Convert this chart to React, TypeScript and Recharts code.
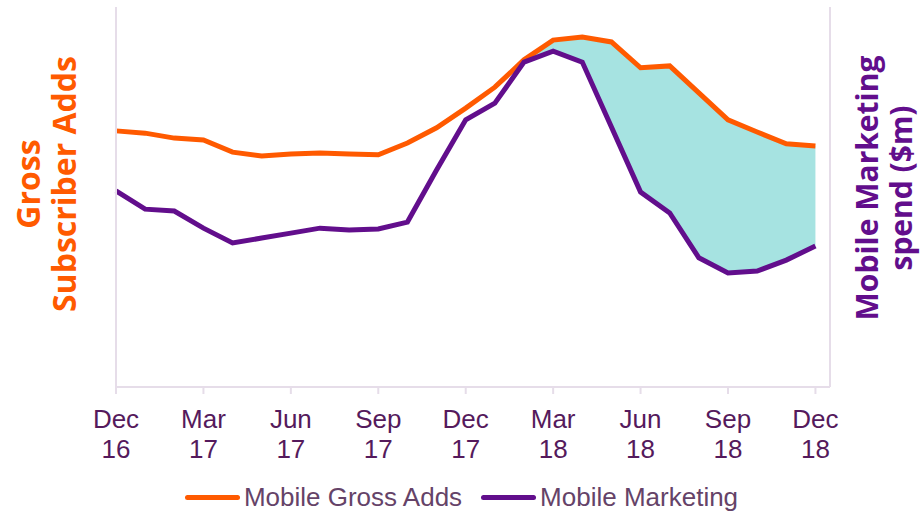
import React from "react";
import { Area, ComposedChart, Legend, Line, XAxis, YAxis } from "recharts";

// Monthly points, Dec 16 .. Dec 18 (month index 0..24)
const MONTHS = [
  "Dec 16", "Jan 17", "Feb 17", "Mar 17", "Apr 17", "May 17", "Jun 17", "Jul 17", "Aug 17",
  "Sep 17", "Oct 17", "Nov 17", "Dec 17", "Jan 18", "Feb 18", "Mar 18", "Apr 18", "May 18",
  "Jun 18", "Jul 18", "Aug 18", "Sep 18", "Oct 18", "Nov 18", "Dec 18",
];

// Index scale (0-100)
const GROSS_ADDS = [
  67.4, 66.8, 65.5, 65.0, 61.8, 60.8, 61.3, 61.6, 61.3, 61.1, 64.2, 68.2, 73.4,
  78.9, 86.1, 91.3, 92.1, 90.8, 84.0, 84.5, 77.4, 70.3, 67.1, 64.0, 63.4,
];
const MARKETING = [
  51.6, 46.8, 46.3, 41.8, 37.9, 39.2, 40.5, 41.8, 41.3, 41.6, 43.4, 57.1, 70.3,
  74.7, 85.5, 88.4, 85.5, 68.4, 51.3, 45.8, 34.0, 30.0, 30.5, 33.4, 37.1,
];
// the gap is shaded from Feb 18 onwards
const SHADE_FROM = 14;

const TICKS = [0, 3, 6, 9, 12, 15, 18, 21, 24];

const ORANGE = "#ff5a00";
const PURPLE = "#620e8c";
const TEAL = "#a6e3e1";
const AXIS = "#e6dde9";
const TICK_TEXT = "#551a5c";
const LEGEND_TEXT = "#654368";

const data = MONTHS.map((name, i) => ({
  m: i,
  name,
  adds: GROSS_ADDS[i],
  spend: MARKETING[i],
  band: i >= SHADE_FROM ? [MARKETING[i], GROSS_ADDS[i]] : null,
}));

function MonthTick({ x, y, payload }: any) {
  const [mon, yr] = MONTHS[payload.value].split(" ");
  return (
    <text
      x={x}
      y={y}
      textAnchor="middle"
      fill={TICK_TEXT}
      fontSize={26}
      fontFamily="'Liberation Sans', Arial, sans-serif"
    >
      <tspan x={x} dy={32}>{mon}</tspan>
      <tspan x={x} dy={30}>{yr}</tspan>
    </text>
  );
}

function LegendRow() {
  const items = [
    { label: "Mobile Gross Adds", color: ORANGE },
    { label: "Mobile Marketing", color: PURPLE },
  ];
  return (
    <div
      style={{
        display: "flex",
        justifyContent: "center",
        gap: 19,
        fontFamily: "'Liberation Sans', Arial, sans-serif",
        fontSize: 26,
        color: LEGEND_TEXT,
        lineHeight: "30px",
      }}
    >
      {items.map((it) => (
        <div key={it.label} style={{ display: "flex", alignItems: "center" }}>
          <span
            style={{
              display: "inline-block",
              width: 55,
              height: 5,
              borderRadius: 3,
              background: it.color,
              marginRight: 4,
            }}
          />
          <span>{it.label}</span>
        </div>
      ))}
    </div>
  );
}

const titleStyle: React.CSSProperties = {
  position: "absolute",
  transform: "translate(-50%, -50%) rotate(-90deg)",
  whiteSpace: "nowrap",
  textAlign: "center",
  fontFamily: "'Open Sans', sans-serif",
  fontWeight: 700,
};

export default function App() {
  return (
    <div
      style={{
        position: "absolute",
        left: 0,
        top: 0,
        width: 923,
        height: 513,
        background: "#fff",
      }}
    >
      <ComposedChart
        width={923}
        height={513}
        data={data}
        margin={{ top: 7, right: 0, bottom: 0, left: 16 }}
      >
        <XAxis
          dataKey="m"
          type="number"
          domain={[0, 24.5]}
          ticks={TICKS}
          interval={0}
          height={126}
          tick={<MonthTick />}
          tickSize={7}
          tickLine={{ stroke: AXIS, strokeWidth: 2 }}
          axisLine={{ stroke: AXIS, strokeWidth: 2 }}
        />
        <YAxis
          yAxisId="left"
          domain={[0, 100]}
          width={100}
          tick={false}
          tickLine={false}
          axisLine={{ stroke: AXIS, strokeWidth: 2 }}
        />
        <YAxis
          yAxisId="right"
          orientation="right"
          domain={[0, 100]}
          width={93}
          tick={false}
          tickLine={false}
          axisLine={{ stroke: AXIS, strokeWidth: 2 }}
        />
        <Area
          yAxisId="left"
          dataKey="band"
          stroke="none"
          fill={TEAL}
          fillOpacity={1}
          isAnimationActive={false}
          legendType="none"
        />
        <Line
          yAxisId="left"
          dataKey="adds"
          name="Mobile Gross Adds"
          stroke={ORANGE}
          strokeWidth={5}
          dot={false}
          isAnimationActive={false}
        />
        <Line
          yAxisId="right"
          dataKey="spend"
          name="Mobile Marketing"
          stroke={PURPLE}
          strokeWidth={5}
          dot={false}
          isAnimationActive={false}
        />
        <Legend
          layout="horizontal"
          align="center"
          verticalAlign="middle"
          content={<LegendRow />}
          wrapperStyle={{ left: 0, top: 482, width: 923 }}
        />
      </ComposedChart>
      <div
        style={{
          ...titleStyle,
          left: 46,
          top: 184,
          color: ORANGE,
          fontSize: 32,
          lineHeight: "36px",
        }}
      >
        Gross
        <br />
        Subscriber Adds
      </div>
      <div
        style={{
          ...titleStyle,
          left: 884,
          top: 188,
          color: PURPLE,
          fontSize: 30,
          lineHeight: "34px",
        }}
      >
        Mobile Marketing
        <br />
        spend ($m)
      </div>
    </div>
  );
}
